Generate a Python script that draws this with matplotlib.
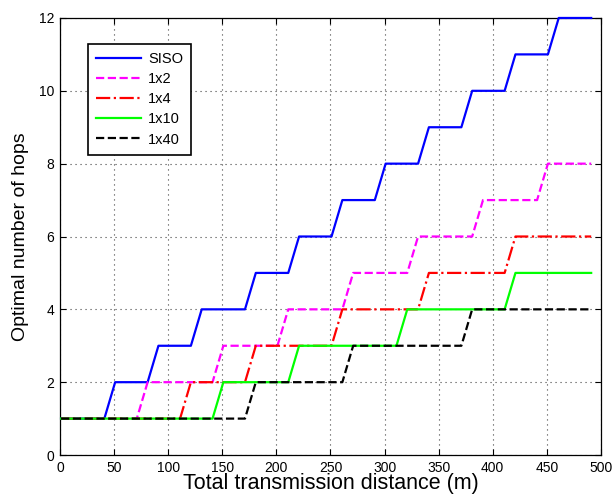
import matplotlib
matplotlib.use("Agg")
import matplotlib.pyplot as plt
import numpy as np

plt.rcParams['font.family'] = ['Liberation Sans', 'DejaVu Sans']

# distance samples (m)
distance = np.arange(1, 492, 10)

siso = [1]*5 + [2]*4 + [3]*4 + [4]*5 + [5]*4 + [6]*4 + [7]*4 + [8]*4 + [9]*4 + [10]*4 + [11]*4 + [12]*4
mimo_1x2 = [1]*8 + [2]*7 + [3]*6 + [4]*6 + [5]*6 + [6]*6 + [7]*6 + [8]*5
mimo_1x4 = [1]*12 + [2]*6 + [3]*8 + [4]*8 + [5]*8 + [6]*8
mimo_1x10 = [1]*15 + [2]*7 + [3]*10 + [4]*10 + [5]*8
mimo_1x40 = [1]*18 + [2]*9 + [3]*11 + [4]*12

labels = ['SISO', '1x2', '1x4', '1x10', '1x40']
series = [siso, mimo_1x2, mimo_1x4, mimo_1x10, mimo_1x40]
colors = ['#0000ff', '#ff00ff', '#ff0000', '#00ff00', '#000000']
styles = ['-', '--', '-.', '-', '--']

x_ticks = list(range(0, 501, 50))
y_ticks = list(range(0, 13, 2))

fig = plt.figure(figsize=(6.14, 4.98), dpi=100)
ax = fig.add_axes([0.0977, 0.0863, 0.881, 0.8776])

for y, lab, c, ls in zip(series, labels, colors, styles):
    ax.plot(distance, y, color=c, linestyle=ls, linewidth=1.6, label=lab,
            clip_on=False, zorder=3)

ax.set_xlim(0, 500)
ax.set_ylim(0, 12)
ax.set_xticks(x_ticks)
ax.set_yticks(y_ticks)
ax.grid(True, linestyle=(0, (1, 3.5)), color='#444444', linewidth=0.8)
ax.tick_params(direction='in', top=True, right=True, labelsize=10, length=4, pad=4)
for s in ax.spines.values():
    s.set_linewidth(0.9)
ax.set_xlabel('Total transmission distance (m)', fontsize=15.5, labelpad=-1)
ax.set_ylabel('Optimal number of hops', fontsize=14, labelpad=7)

leg = ax.legend(loc='upper left', bbox_to_anchor=(0.052, 0.9405), fontsize=10.5,
                fancybox=False, framealpha=1, edgecolor='black',
                borderaxespad=0, handlelength=3.1, handletextpad=0.45,
                borderpad=0.55, labelspacing=0.42)
leg.get_frame().set_linewidth(1.2)
leg.set_zorder(5)

fig.savefig('out.png', dpi=100)
